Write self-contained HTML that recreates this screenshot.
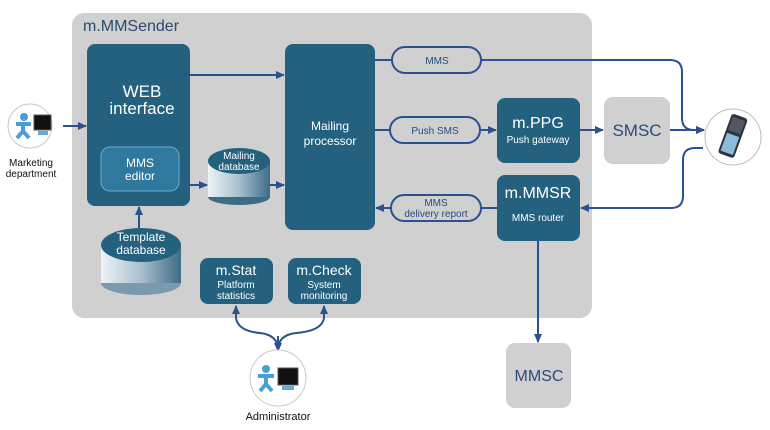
<!DOCTYPE html>
<html><head><meta charset="utf-8"><style>
body{margin:0;background:#fff;}
svg{display:block;font-family:"Liberation Sans",sans-serif;}
</style></head><body>
<svg width="770" height="430" viewBox="0 0 770 430" xmlns="http://www.w3.org/2000/svg">
<defs>
<marker id="a" markerWidth="10" markerHeight="10" refX="8" refY="5" orient="auto" markerUnits="userSpaceOnUse">
<path d="M0,1 L9,5 L0,9 z" fill="#2b5190"/></marker>
<linearGradient id="cyl" x1="0" x2="1">
<stop offset="0" stop-color="#eef3f6"/><stop offset="0.5" stop-color="#a9bfcd"/><stop offset="1" stop-color="#3d6c87"/></linearGradient>
</defs>
<rect x="72" y="13" width="520" height="305" rx="12" fill="#d0d0d0"/>
<text x="83" y="31" font-size="16" fill="#2a4a6e">m.MMSender</text>

<!-- WEB -->
<rect x="87" y="44" width="103" height="162" rx="8" fill="#24617f"/>
<text x="142" y="97" font-size="17" fill="#fff" text-anchor="middle">WEB</text>
<text x="142" y="114" font-size="17" fill="#fff" text-anchor="middle">interface</text>
<rect x="101" y="147" width="78" height="44" rx="9" fill="#2f789e" stroke="#6aaccb" stroke-width="1"/>
<text x="140" y="167" font-size="12" fill="#fff" text-anchor="middle">MMS</text>
<text x="140" y="180" font-size="12" fill="#fff" text-anchor="middle">editor</text>

<!-- Mailing database -->
<ellipse cx="239" cy="197" rx="31" ry="8" fill="#3d6c87"/>
<rect x="208" y="161" width="62" height="36" fill="url(#cyl)"/>
<ellipse cx="239" cy="161" rx="31" ry="13" fill="#24617f"/>
<text x="239" y="159" font-size="10" fill="#fff" text-anchor="middle">Mailing</text>
<text x="239" y="170" font-size="10" fill="#fff" text-anchor="middle">database</text>

<!-- Template db -->
<ellipse cx="141" cy="283" rx="40" ry="12" fill="#7a9aae"/>
<rect x="101" y="245" width="80" height="38" fill="url(#cyl)"/>
<ellipse cx="141" cy="245" rx="40" ry="17" fill="#24617f"/>
<text x="141" y="241" font-size="12" fill="#fff" text-anchor="middle">Template</text>
<text x="141" y="254" font-size="12" fill="#fff" text-anchor="middle">database</text>

<!-- Mailing processor -->
<rect x="285" y="44" width="90" height="186" rx="8" fill="#24617f"/>
<text x="330" y="130" font-size="12" fill="#fff" text-anchor="middle">Mailing</text>
<text x="330" y="145" font-size="12" fill="#fff" text-anchor="middle">processor</text>

<!-- m.Stat / m.Check -->
<rect x="200" y="258" width="73" height="46" rx="8" fill="#24617f"/>
<text x="236" y="275" font-size="14" fill="#fff" text-anchor="middle">m.Stat</text>
<text x="236" y="288" font-size="10" fill="#fff" text-anchor="middle">Platform</text>
<text x="236" y="299" font-size="10" fill="#fff" text-anchor="middle">statistics</text>
<rect x="288" y="258" width="73" height="46" rx="8" fill="#24617f"/>
<text x="324" y="275" font-size="14" fill="#fff" text-anchor="middle">m.Check</text>
<text x="324" y="288" font-size="10" fill="#fff" text-anchor="middle">System</text>
<text x="324" y="299" font-size="10" fill="#fff" text-anchor="middle">monitoring</text>

<!-- PPG / MMSR -->
<rect x="497" y="98" width="83" height="65" rx="8" fill="#24617f"/>
<text x="538" y="128" font-size="16" fill="#fff" text-anchor="middle">m.PPG</text>
<text x="538" y="143" font-size="10" fill="#fff" text-anchor="middle">Push gateway</text>
<rect x="497" y="175" width="83" height="66" rx="8" fill="#24617f"/>
<text x="538" y="198" font-size="16" fill="#fff" text-anchor="middle">m.MMSR</text>
<text x="538" y="221" font-size="10" fill="#fff" text-anchor="middle">MMS router</text>

<!-- SMSC / MMSC -->
<rect x="604" y="97" width="66" height="67" rx="9" fill="#d0d0d0"/>
<text x="637" y="136" font-size="17" fill="#2a4a7a" text-anchor="middle">SMSC</text>
<rect x="506" y="343" width="65" height="65" rx="9" fill="#d0d0d0"/>
<text x="539" y="381" font-size="16" fill="#2a4a7a" text-anchor="middle">MMSC</text>

<!-- pills -->
<g fill="none" stroke="#2b5190" stroke-width="2">
<rect x="392" y="47" width="89" height="26" rx="13"/>
<rect x="390" y="117" width="90" height="26" rx="13"/>
<rect x="391" y="195" width="90" height="26" rx="13"/>
</g>
<text x="437" y="64" font-size="10" fill="#2a4a7a" text-anchor="middle">MMS</text>
<text x="435" y="134" font-size="10" fill="#2a4a7a" text-anchor="middle">Push SMS</text>
<text x="436" y="206" font-size="10" fill="#2a4a7a" text-anchor="middle">MMS</text>
<text x="436" y="217" font-size="10" fill="#2a4a7a" text-anchor="middle">delivery report</text>

<!-- connectors -->
<g fill="none" stroke="#2b5190" stroke-width="2">
<path d="M63 126 H86" marker-end="url(#a)"/>
<path d="M180 75 H284" marker-end="url(#a)"/>
<path d="M190 185 H207" marker-end="url(#a)"/>
<path d="M270 185 H284" marker-end="url(#a)"/>
<path d="M139 228 V207" marker-end="url(#a)"/>
<path d="M375 60 H392"/>
<path d="M481 60 H670 Q682 60 682 72 V118 Q682 130 694 130 H704" marker-end="url(#a)"/>
<path d="M375 130 H390"/>
<path d="M480 130 H496" marker-end="url(#a)"/>
<path d="M580 130 H603" marker-end="url(#a)"/>
<path d="M670 130 H704" marker-end="url(#a)"/>
<path d="M703 148 H695 Q683 148 683 160 V196 Q683 208 671 208 H581" marker-end="url(#a)"/>
<path d="M497 208 H481"/>
<path d="M391 208 H376" marker-end="url(#a)"/>
<path d="M538 241 V342" marker-end="url(#a)"/>
<path d="M278 350 Q278 335 260 333 Q238 331 236 318 V306" marker-end="url(#a)"/>
<path d="M278 350 Q278 335 296 333 Q322 331 324 318 V306" marker-end="url(#a)"/>
<path d="M278 336 V351" marker-end="url(#a)"/>
</g>

<!-- Marketing icon -->
<circle cx="30" cy="126" r="22" fill="#fff" stroke="#c8c8c8"/>
<circle cx="24" cy="117" r="4" fill="#4a9ed6"/>
<path d="M16 124 H31 M23 123 V131 L17 138 M23 131 L29 138" stroke="#4a9ed6" stroke-width="4" fill="none"/>
<rect x="34" y="115" width="17" height="15" fill="#111" stroke="#555"/>
<rect x="38" y="131" width="10" height="4" fill="#6aa9d8"/>
<text x="31" y="166" font-size="10" fill="#111" text-anchor="middle">Marketing</text>
<text x="31" y="177" font-size="10" fill="#111" text-anchor="middle">department</text>

<!-- Admin icon -->
<circle cx="278" cy="378" r="28" fill="#fff" stroke="#c8c8c8"/>
<circle cx="266" cy="369" r="4" fill="#4a9ed6"/>
<path d="M258 376 H274 M266 375 V384 L260 391 M266 384 L272 391" stroke="#4a9ed6" stroke-width="4" fill="none"/>
<rect x="278" y="368" width="20" height="17" fill="#111" stroke="#555"/>
<rect x="282" y="386" width="12" height="4" fill="#6aa9d8"/>
<text x="278" y="420" font-size="11" fill="#111" text-anchor="middle">Administrator</text>

<!-- Phone -->
<circle cx="733" cy="137" r="28" fill="#fff" stroke="#bbb"/>
<g transform="rotate(20 733 137)">
<rect x="724" y="115" width="17" height="42" rx="3" fill="#2a3440"/>
<rect x="726" y="118" width="13" height="14" fill="#556"/>
<rect x="726" y="135" width="13" height="19" fill="#8bbbd8"/>
</g>
</svg>
</body></html>
